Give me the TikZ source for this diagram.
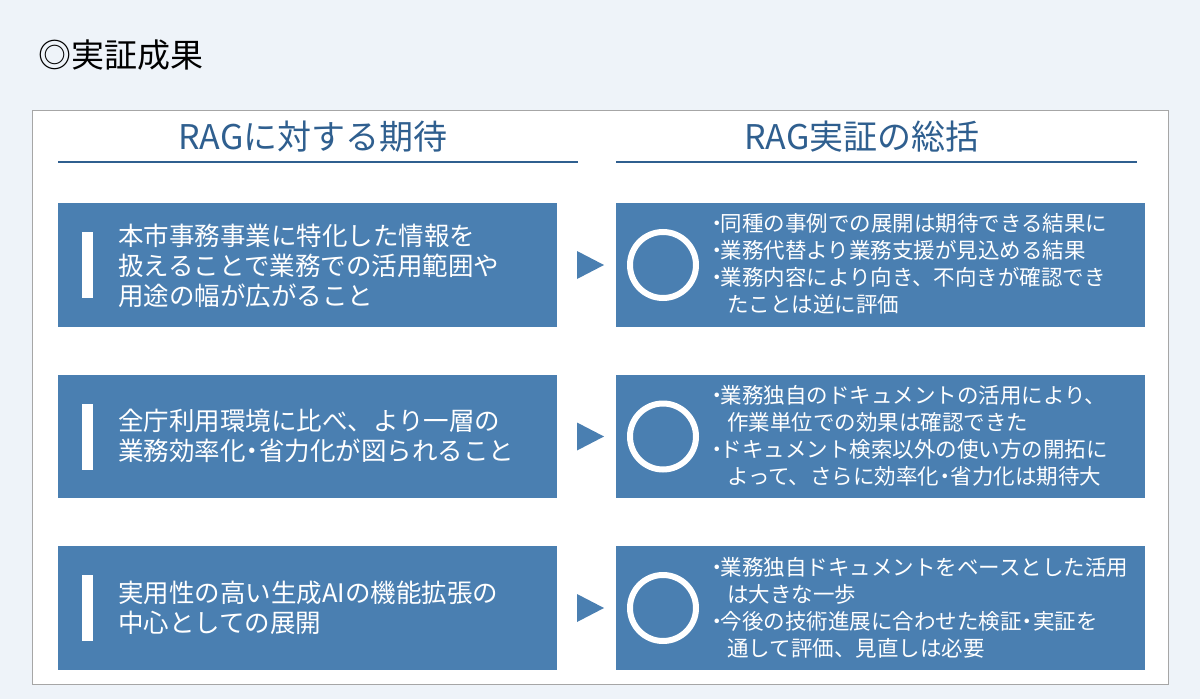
\documentclass[tikz,border=0pt]{standalone}
\usepackage{fontspec}
\setmainfont{Noto Sans CJK JP}
\newcommand\bl{\hspace*{-6pt}・\hspace{-7pt}}
\newcommand\ind{\hspace*{15pt}}
\definecolor{bg}{HTML}{EEF3F9}
\definecolor{boxb}{HTML}{4A7FB1}
\definecolor{hd}{HTML}{2F5F8F}
\begin{document}
\begin{tikzpicture}[x=1pt,y=-1pt,
  ltxt/.style={anchor=west,text=white,font=\fontsize{25.5}{30}\selectfont,align=left,inner sep=0},
  rtxt/.style={anchor=west,text=white,font=\fontsize{21.5}{27}\selectfont,align=left,inner sep=0},
  hdr/.style={text=hd,font=\fontsize{34}{36}\selectfont,inner sep=0}]
\fill[bg] (0,0) rectangle (1200,699);
\useasboundingbox (0,0) rectangle (1200,699);
\node[anchor=west,font=\fontsize{33}{36}\selectfont,inner sep=0] (title) at (38,55) {◎実証成果};
\draw[draw=gray!70,fill=white,line width=1] (32,110) rectangle (1168,684);
\node[hdr] (h1) at (313,137) {RAGに対する期待};
\node[hdr] (h2) at (862,137) {RAG実証の総括};
\draw[hd,line width=2.5] (58,162) -- (578,162);
\draw[hd,line width=2.5] (616,162) -- (1137,162);
\foreach \i/\t/\b in {1/203/327,2/375/498,3/546/670}{
  \fill[boxb] (58,\t) rectangle (557,\b);
  \fill[boxb] (616,\t) rectangle (1145,\b);
  \pgfmathsetmacro{\m}{(\t+\b)/2}
  \fill[white] (82,\m-33) rectangle (93,\m+33);
  \fill[boxb] (577,\m-14) -- (604,\m) -- (577,\m+14) -- cycle;
  \draw[white,line width=6] (663,\m) circle (33);
}
\node[ltxt] (l1) at (118,266) {本市事務事業に特化した情報を\\扱えることで業務での活用範囲や\\用途の幅が広がること};
\node[ltxt] (l2) at (118,436) {全庁利用環境に比べ、より一層の\\業務効率化\hspace{-6pt}・\hspace{-6pt}省力化が図られること};
\node[ltxt] (l3) at (118,608) {実用性の高い生成AIの機能拡張の\\中心としての展開};
\node[rtxt] (r1) at (712,264) {\bl 同種の事例での展開は期待できる結果に\\\bl 業務代替より業務支援が見込める結果\\\bl 業務内容により向き、不向きが確認でき\\\ind たことは逆に評価};
\node[rtxt] (r2) at (712,436) {\bl 業務独自のドキュメントの活用により、\\\ind 作業単位での効果は確認できた\\\bl ドキュメント検索以外の使い方の開拓に\\\ind よって、さらに効率化\hspace{-5pt}・\hspace{-5pt}省力化は期待大};
\node[rtxt] (r3) at (712,608) {\bl 業務独自ドキュメントをベースとした活用\\\ind は大きな一歩\\\bl 今後の技術進展に合わせた検証\hspace{-5pt}・\hspace{-5pt}実証を\\\ind 通して評価、見直しは必要};
\end{tikzpicture}
\end{document}
